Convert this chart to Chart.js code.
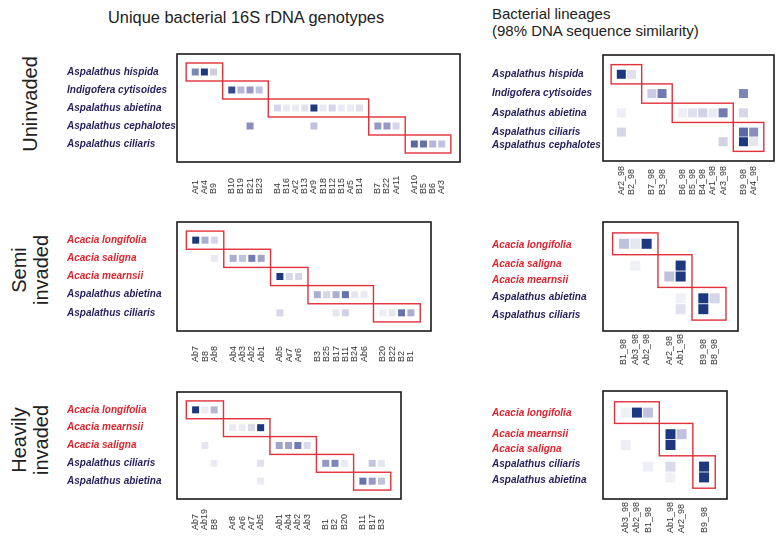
<!DOCTYPE html>
<html>
<head>
<meta charset="utf-8">
<title>Bacterial genotypes and lineages by invasion level</title>
<script src="https://cdn.jsdelivr.net/npm/chart.js"></script>
<style>
    body { margin: 0; background: #fff; font-family: "Liberation Sans", Arial, sans-serif; color: #222; }
    #page { position: relative; width: 777px; height: 537px; overflow: hidden; }
    canvas { position: absolute; }
    .title { position: absolute; font-size: 15px; line-height: 17px; white-space: nowrap; }
    .side { position: absolute; width: 160px; font-size: 20px; line-height: 22px; text-align: center; transform: rotate(-90deg); }
</style>
</head>
<body>
<div id="page">
    <div class="title" style="left:108px; top:9px; font-size:16.4px;">Unique bacterial 16S rDNA genotypes</div>
    <div class="title" style="left:492px; top:5px;">Bacterial lineages<br>(98% DNA sequence similarity)</div>
    <div class="side" style="left:-50px; top:93px;">Uninvaded</div>
    <div class="side" style="left:-50px; top:248px;">Semi<br>invaded</div>
    <div class="side" style="left:-50px; top:418px;">Heavily<br>invaded</div>
    <canvas id="uGeno"></canvas>
    <canvas id="sGeno"></canvas>
    <canvas id="hGeno"></canvas>
    <canvas id="uLin"></canvas>
    <canvas id="sLin"></canvas>
    <canvas id="hLin"></canvas>
</div>

<script>
    // ---- uninvaded, genotypes ----
    const uGenoRows = ['Aspalathus hispida', 'Indigofera cytisoides', 'Aspalathus abietina', 'Aspalathus cephalotes', 'Aspalathus ciliaris'];
    const uGenoRowAt = [0, 2, 4, 6, 8];
    const uGenoCols = [['Ar1', 'Ar4', 'B9'], ['B10', 'B19', 'B21', 'B23'],
        ['B4', 'B16', 'Ar2', 'B13', 'Ar9', 'B18', 'B12', 'B15', 'Ar5', 'B14'], ['B7', 'B22', 'Ar11'], ['Ar10', 'B5', 'B6', 'Ar3']];
    const uGenoCells = [
        [0, 'Ar1', 0.6], [0, 'Ar4', 1], [0, 'B9', 0.25],
        [1, 'B10', 0.9], [1, 'B19', 0.35], [1, 'B21', 0.5], [1, 'B23', 0.3],
        [2, 'B4', 0.2], [2, 'B16', 0.1], [2, 'Ar2', 0.1], [2, 'B13', 0.15], [2, 'Ar9', 1], [2, 'B18', 0.1],
        [2, 'B12', 0.2], [2, 'B15', 0.1], [2, 'Ar5', 0.1], [2, 'B14', 0.15],
        [3, 'B21', 0.55], [3, 'Ar9', 0.3], [3, 'B7', 0.5], [3, 'B22', 0.5], [3, 'Ar11', 0.2],
        [4, 'Ar10', 0.75], [4, 'B5', 0.7], [4, 'B6', 0.35], [4, 'Ar3', 0.3]
    ];
    const uGenoBoxRows = [[0], [1], [2], [3], [4]];

    // ---- semi invaded, genotypes ----
    const sGenoRows = ['Acacia longifolia', 'Acacia saligna', 'Acacia mearnsii', 'Aspalathus abietina', 'Aspalathus ciliaris'];
    const sGenoRowAt = [0, 2, 4, 6, 8];
    const sGenoCols = [['Ab7', 'B8', 'Ab8'], ['Ab4', 'Ab3', 'Ab2', 'Ab1'], ['Ab5', 'Ar7', 'Ar6'],
        ['B3', 'B25', 'B17', 'B11', 'B24', 'Ab6'], ['B20', 'B22', 'B2', 'B1']];
    const sGenoCells = [
        [0, 'Ab7', 1], [0, 'B8', 0.4], [0, 'Ab8', 0.2],
        [1, 'Ab8', 0.1], [1, 'Ab4', 0.4], [1, 'Ab3', 0.3], [1, 'Ab2', 0.65], [1, 'Ab1', 0.45],
        [2, 'Ab5', 1], [2, 'Ar7', 0.2], [2, 'Ar6', 0.2],
        [3, 'B3', 0.4], [3, 'B25', 0.2], [3, 'B17', 0.4], [3, 'B11', 0.7], [3, 'B24', 0.12], [3, 'Ab6', 0.1],
        [4, 'Ab5', 0.2], [4, 'B17', 0.12], [4, 'B11', 0.22], [4, 'B20', 0.08], [4, 'B22', 0.12], [4, 'B2', 0.7], [4, 'B1', 0.4]
    ];
    const sGenoBoxRows = [[0], [1], [2], [3], [4]];

    // ---- heavily invaded, genotypes ----
    const hGenoRows = ['Acacia longifolia', 'Acacia mearnsii', 'Acacia saligna', 'Aspalathus ciliaris', 'Aspalathus abietina'];
    const hGenoRowAt = [0, 2, 4, 6, 8];
    const hGenoCols = [['Ab7', 'Ab19', 'B8'], ['Ar8', 'Ar6', 'Ar7', 'Ab5'], ['Ab1', 'Ab4', 'Ab2', 'Ab3'],
        ['B1', 'B2', 'B20'], ['B11', 'B17', 'B3']];
    const hGenoCells = [
        [0, 'Ab7', 1], [0, 'Ab19', 0.1], [0, 'B8', 0.35],
        [1, 'Ar8', 0.1], [1, 'Ar6', 0.1], [1, 'Ar7', 0.18], [1, 'Ab5', 1],
        [2, 'Ab19', 0.12], [2, 'Ab1', 0.45], [2, 'Ab4', 0.45], [2, 'Ab2', 0.65], [2, 'Ab3', 0.18],
        [3, 'B8', 0.1], [3, 'Ab5', 0.15], [3, 'B1', 0.5], [3, 'B2', 0.6], [3, 'B20', 0.1], [3, 'B17', 0.28], [3, 'B3', 0.12],
        [4, 'Ab5', 0.1], [4, 'B11', 0.7], [4, 'B17', 0.5], [4, 'B3', 0.3]
    ];
    const hGenoBoxRows = [[0], [1], [2], [3], [4]];

    // ---- uninvaded, lineages ----
    const uLinRows = ['Aspalathus hispida', 'Indigofera cytisoides', 'Aspalathus abietina', 'Aspalathus ciliaris', 'Aspalathus cephalotes'];
    const uLinRowAt = [0, 2, 4, 6, 7];
    const uLinLabelAt = [0, 2, 4, 6, 7.4];
    const uLinCols = [['Ar2_98', 'B2_98'], ['B7_98', 'B3_98'], ['B6_98', 'B5_98', 'B4_98', 'Ar1_98', 'Ar3_98'], ['B9_98', 'Ar4_98']];
    const uLinCells = [
        [0, 'Ar2_98', 1], [0, 'B2_98', 0.15],
        [1, 'B7_98', 0.25], [1, 'B3_98', 0.65], [1, 'B9_98', 0.6],
        [2, 'Ar2_98', 0.08], [2, 'B6_98', 0.08], [2, 'B5_98', 0.15], [2, 'B4_98', 0.22], [2, 'Ar1_98', 0.1],
        [2, 'Ar3_98', 0.65], [2, 'B9_98', 0.2],
        [3, 'Ar2_98', 0.2], [3, 'B9_98', 0.75], [3, 'Ar4_98', 0.55],
        [4, 'Ar3_98', 0.22], [4, 'B9_98', 1], [4, 'Ar4_98', 0.12]
    ];
    const uLinBoxRows = [[0], [1], [2], [3, 4]];

    // ---- semi invaded, lineages ----
    const sLinRows = ['Acacia longifolia', 'Acacia saligna', 'Acacia mearnsii', 'Aspalathus abietina', 'Aspalathus ciliaris'];
    const sLinRowAt = [0, 2, 3, 5, 6];
    const sLinLabelAt = [0.15, 1.9, 3.3, 4.9, 6.6];
    const sLinCols = [['B1_98', 'Ab3_98', 'Ab2_98'], ['Ar2_98', 'Ab1_98'], ['B9_98', 'B8_98']];
    const sLinCells = [
        [0, 'B1_98', 0.3], [0, 'Ab3_98', 0.12], [0, 'Ab2_98', 1],
        [1, 'Ab3_98', 0.07], [1, 'Ab1_98', 1],
        [2, 'Ar2_98', 0.3], [2, 'Ab1_98', 1],
        [3, 'Ab1_98', 0.07], [3, 'B9_98', 1], [3, 'B8_98', 0.2],
        [4, 'Ab1_98', 0.14], [4, 'B9_98', 1]
    ];
    const sLinBoxRows = [[0], [1, 2], [3, 4]];

    // ---- heavily invaded, lineages ----
    const hLinRows = ['Acacia longifolia', 'Acacia mearnsii', 'Acacia saligna', 'Aspalathus ciliaris', 'Aspalathus abietina'];
    const hLinRowAt = [0, 2, 3, 5, 6];
    const hLinLabelAt = [0.05, 2.0, 3.4, 4.8, 6.3];
    const hLinCols = [['Ab3_98', 'Ab2_98', 'B1_98'], ['Ab1_98', 'Ar2_98'], ['B9_98']];
    const hLinCells = [
        [0, 'Ab3_98', 0.07], [0, 'Ab2_98', 1], [0, 'B1_98', 0.3],
        [1, 'Ab1_98', 1], [1, 'Ar2_98', 0.3],
        [2, 'Ab3_98', 0.08], [2, 'Ab1_98', 1],
        [3, 'B1_98', 0.08], [3, 'Ab1_98', 0.18], [3, 'B9_98', 1],
        [4, 'Ab1_98', 0.07], [4, 'B9_98', 1]
    ];
    const hLinBoxRows = [[0], [1, 2], [3, 4]];

    const FONT = '"Liberation Sans", Arial, sans-serif';

    // where each panel sits on the page (pixels) and the axis ranges
    const panels = [
        { id: 'uGeno', rows: uGenoRows, rowAt: uGenoRowAt, labelAt: uGenoRowAt, cols: uGenoCols, cells: uGenoCells, boxRows: uGenoBoxRows,
          labelL: 67, boxL: 177, boxR: 460, boxT: 51, boxB: 162, x: [-2, 29], y: [-2, 10], cell: 7, colLabOff: 32 },
        { id: 'sGeno', rows: sGenoRows, rowAt: sGenoRowAt, labelAt: sGenoRowAt, cols: sGenoCols, cells: sGenoCells, boxRows: sGenoBoxRows,
          labelL: 67, boxL: 177, boxR: 431, boxT: 219, boxB: 331, x: [-2, 25.15], y: [-2, 10], cell: 7, colLabOff: 31 },
        { id: 'hGeno', rows: hGenoRows, rowAt: hGenoRowAt, labelAt: hGenoRowAt, cols: hGenoCols, cells: hGenoCells, boxRows: hGenoBoxRows,
          labelL: 67, boxL: 177, boxR: 401, boxT: 389, boxB: 499, x: [-2, 22.1], y: [-2, 10], cell: 7, colLabOff: 31 },
        { id: 'uLin', rows: uLinRows, rowAt: uLinRowAt, labelAt: uLinLabelAt, cols: uLinCols, cells: uLinCells, boxRows: uLinBoxRows,
          labelL: 492, boxL: 603, boxR: 774, boxT: 52, boxB: 161, x: [-1.8, 15], y: [-2, 9], cell: 9, colLabOff: 34 },
        { id: 'sLin', rows: sLinRows, rowAt: sLinRowAt, labelAt: sLinLabelAt, cols: sLinCols, cells: sLinCells, boxRows: sLinBoxRows,
          labelL: 492, boxL: 603, boxR: 738, boxT: 219, boxB: 331, x: [-1.85, 10.06], y: [-2, 8], cell: 10, colLabOff: 34 },
        { id: 'hLin', rows: hLinRows, rowAt: hLinRowAt, labelAt: hLinLabelAt, cols: hLinCols, cells: hLinCells, boxRows: hLinBoxRows,
          labelL: 492, boxL: 603, boxR: 727, boxT: 388, boxB: 499, x: [-2.03, 9.05], y: [-2, 8], cell: 10, colLabOff: 34 }
    ];

    // white -> lavender -> navy
    function shade(v) {
        const stops = [[0, 255, 255, 255], [0.5, 150, 152, 198], [1, 30, 56, 128]];
        let i = v <= 0.5 ? 0 : 1;
        const a = stops[i], b = stops[i + 1];
        const t = (v - a[0]) / (b[0] - a[0]);
        const c = [1, 2, 3].map(k => Math.round(a[k] + (b[k] - a[k]) * t));
        return `rgb(${c[0]}, ${c[1]}, ${c[2]})`;
    }

    // one empty column between groups
    function columnPositions(groups) {
        const pos = {};
        const list = [];
        const spans = [];
        let p = 0;
        groups.forEach(g => {
            spans.push([p, p + g.length - 1]);
            g.forEach(name => { pos[name] = p; list.push([name, p]); p++; });
            p++;
        });
        return { pos, list, spans };
    }

    const frame = {
        id: 'frame',
        afterDatasetsDraw(chart, args, opts) {
            const { ctx, chartArea, scales: { x, y } } = chart;
            const p = opts.panel, cp = opts.colPos;
            ctx.save();
            // diagonal group boxes
            ctx.strokeStyle = '#e2313b';
            ctx.lineWidth = 1.4;
            p.boxRows.forEach((rows, g) => {
                const ys = rows.map(r => p.rowAt[r]);
                const x0 = x.getPixelForValue(cp.spans[g][0] - 1), x1 = x.getPixelForValue(cp.spans[g][1] + 1);
                const y0 = y.getPixelForValue(Math.min(...ys) - 1), y1 = y.getPixelForValue(Math.max(...ys) + 1);
                ctx.strokeRect(x0, y0, x1 - x0, y1 - y0);
            });
            // outer frame
            ctx.strokeStyle = '#1a1a1a';
            ctx.lineWidth = 1.6;
            ctx.strokeRect(chartArea.left, chartArea.top, chartArea.right - chartArea.left, chartArea.bottom - chartArea.top);
            // column labels, read upward from a common baseline
            ctx.fillStyle = '#333';
            ctx.font = `9px ${FONT}`;
            ctx.textAlign = 'left';
            ctx.textBaseline = 'middle';
            cp.list.forEach(([name, pos]) => {
                ctx.save();
                ctx.translate(x.getPixelForValue(pos), chartArea.bottom + p.colLabOff);
                ctx.rotate(-Math.PI / 2);
                ctx.fillText(name, 0, 0);
                ctx.restore();
            });
            ctx.restore();
        }
    };

    function createPanel(p) {
        const canvas = document.getElementById(p.id);
        const w = p.boxR - p.labelL + 4;
        const h = p.boxB - p.boxT + 3 + 40;
        canvas.width = w;
        canvas.height = h;
        canvas.style.left = p.labelL + 'px';
        canvas.style.top = (p.boxT - 3) + 'px';

        const cp = columnPositions(p.cols);
        const points = p.cells.map(c => ({ x: cp.pos[c[1]], y: p.rowAt[c[0]], v: c[2] }));

        new Chart(canvas, {
            type: 'scatter',
            data: {
                datasets: [{
                    data: points,
                    pointStyle: 'rect',
                    pointRadius: p.cell / Math.SQRT2,
                    borderWidth: 0,
                    backgroundColor: c => shade(c.raw ? c.raw.v : 0)
                }]
            },
            options: {
                responsive: false,
                animation: false,
                events: [],
                layout: { autoPadding: false, padding: { left: 0, top: 3, right: 4, bottom: 40 } },
                plugins: {
                    legend: { display: false },
                    tooltip: { enabled: false },
                    frame: { panel: p, colPos: cp }
                },
                scales: {
                    x: { type: 'linear', display: false, min: p.x[0], max: p.x[1] },
                    y: {
                        type: 'linear', reverse: true, min: p.y[0], max: p.y[1],
                        grid: { display: false },
                        border: { display: false },
                        afterBuildTicks: s => { s.ticks = p.labelAt.map(v => ({ value: v })); },
                        afterFit: s => { s.width = p.boxL - p.labelL; },
                        ticks: {
                            autoSkip: false,
                            crossAlign: 'far',
                            padding: 0,
                            font: { family: FONT, size: 10, weight: 'bold', style: 'italic' },
                            color: c => p.rows[c.index].startsWith('Acacia') ? '#e2232d' : '#241f5c',
                            callback: (v, i) => p.rows[i]
                        }
                    }
                }
            },
            plugins: [frame]
        });
    }

    panels.forEach(createPanel);
</script>
</body>
</html>
